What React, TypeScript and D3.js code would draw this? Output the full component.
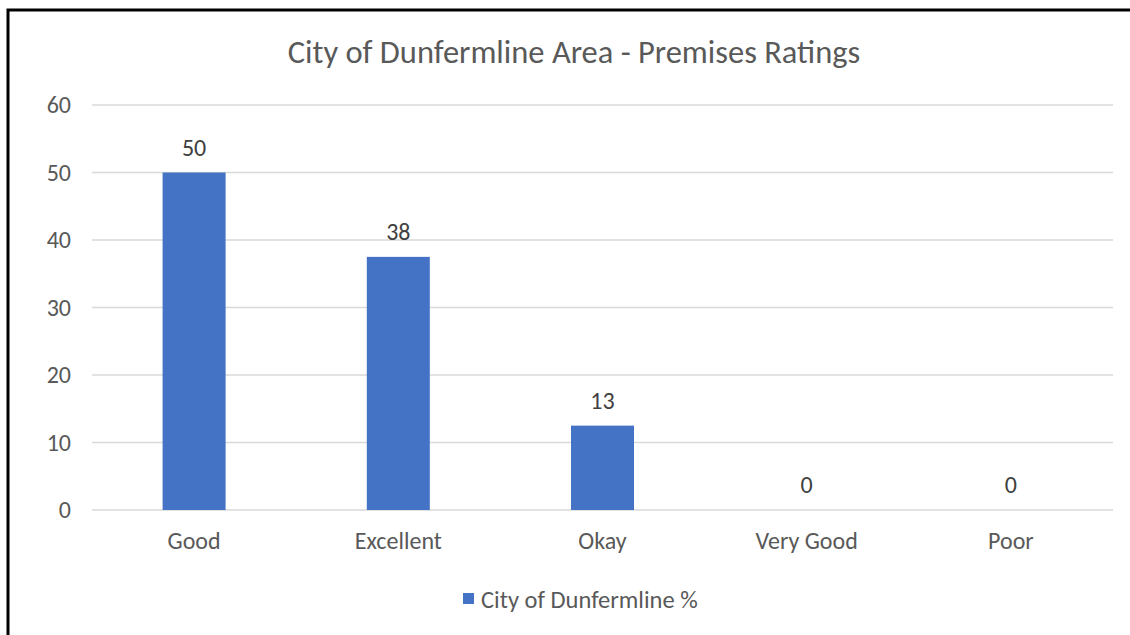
import * as d3 from 'd3';
import {useEffect, useRef} from 'react';

const categories = ['Good', 'Excellent', 'Okay', 'Very Good', 'Poor'];
const values = [50, 37.5, 12.5, 0, 0];
const yTicks = [0, 10, 20, 30, 40, 50, 60];
const seriesName = 'City of Dunfermline %';
const title = 'City of Dunfermline Area - Premises Ratings';

export default function App() {
  const ref = useRef<SVGSVGElement>(null);

  useEffect(() => {
    const svg = d3.select(ref.current);
    svg.selectAll('*').remove();
    const W = 1130, H = 635;
    const font = 'Carlito, Calibri, "Open Sans", sans-serif';
    const grey = '#595959';
    const blue = '#4472C4';

    svg.append('rect').attr('width', W).attr('height', H).attr('fill', '#fff');
    // outer frame (right/bottom edges sit off-canvas)
    svg.append('rect')
      .attr('x', 8).attr('y', 10).attr('width', W + 20).attr('height', H + 20)
      .attr('fill', 'none').attr('stroke', '#000').attr('stroke-width', 3);

    const x = d3.scaleBand().domain(categories).range([92, 1113]);
    const y = d3.scaleLinear().domain([0, 60]).range([510, 105]);
    const barW = 63;

    svg.append('text')
      .attr('x', 574).attr('y', 63)
      .attr('text-anchor', 'middle')
      .attr('font-family', font).attr('font-size', 32.5)
      .attr('fill', grey)
      .text(title);

    svg.append('g').selectAll('line')
      .data(yTicks).enter().append('line')
      .attr('x1', 92).attr('x2', 1113)
      .attr('y1', d => y(d)).attr('y2', d => y(d))
      .attr('stroke', '#d9d9d9').attr('stroke-width', 1.5);

    svg.append('g').selectAll('text')
      .data(yTicks).enter().append('text')
      .attr('x', 71).attr('y', d => y(d))
      .attr('dy', '0.35em')
      .attr('text-anchor', 'end')
      .attr('font-family', font).attr('font-size', 24)
      .attr('fill', grey)
      .text(d => d);

    const data = categories.map((c, i) => ({c, v: values[i]}));

    svg.append('g').selectAll('rect')
      .data(data).enter().append('rect')
      .attr('x', d => x(d.c)! + x.bandwidth() / 2 - barW / 2)
      .attr('y', d => y(d.v))
      .attr('width', barW)
      .attr('height', d => y(0) - y(d.v))
      .attr('fill', blue);

    svg.append('g').selectAll('text')
      .data(data).enter().append('text')
      .attr('x', d => x(d.c)! + x.bandwidth() / 2)
      .attr('y', d => y(d.v) - 17)
      .attr('text-anchor', 'middle')
      .attr('font-family', font).attr('font-size', 24)
      .attr('fill', '#404040')
      .text(d => d3.format('.0f')(d.v));

    svg.append('g').selectAll('text')
      .data(categories).enter().append('text')
      .attr('x', d => x(d)! + x.bandwidth() / 2)
      .attr('y', 549)
      .attr('text-anchor', 'middle')
      .attr('font-family', font).attr('font-size', 24)
      .attr('fill', grey)
      .text(d => d);

    const lg = svg.append('g');
    lg.append('rect').attr('x', 463).attr('y', 593).attr('width', 11).attr('height', 11).attr('fill', blue);
    lg.append('text')
      .attr('x', 481).attr('y', 608)
      .attr('font-family', font).attr('font-size', 24.5)
      .attr('fill', grey)
      .text(seriesName);
  }, []);

  return <svg ref={ref} width={1130} height={635} style={{position: 'absolute', left: 0, top: 0}} />;
}
